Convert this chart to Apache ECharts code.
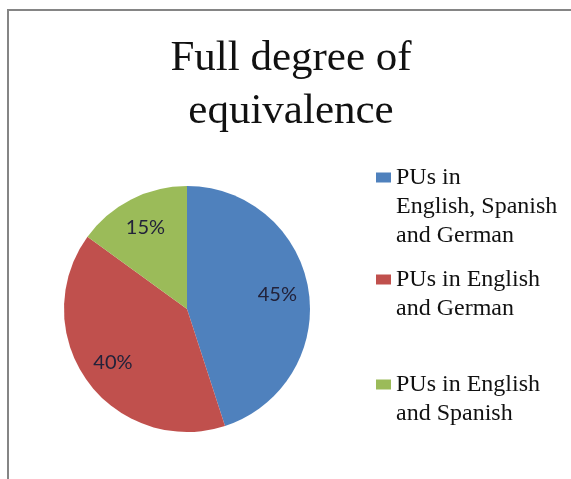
<!DOCTYPE html>
<html>
<head>
<meta charset="utf-8">
<title>Full degree of equivalence</title>
<script src="https://cdn.jsdelivr.net/npm/echarts@6/dist/echarts.min.js"></script>
<style>
  html, body { margin: 0; padding: 0; background: #fff; }
  #chart { width: 571px; height: 479px; }
</style>
</head>
<body>
<div id="chart"></div>
<script>
// 数据
var categories = ['PUs in English, Spanish and German', 'PUs in English and German', 'PUs in English and Spanish'];
var legendLines = [
  ['PUs in', 'English, Spanish', 'and German'],
  ['PUs in English', 'and German'],
  ['PUs in English', 'and Spanish']
];
var shares = [45, 40, 15];
var sliceColors = ['#4f81bd', '#c0504d', '#9bbb59'];

(function () {
  var myChart = echarts.init(document.getElementById('chart'));
  var serif = '"Liberation Serif", "Times New Roman", serif';

  var pieData = categories.map(function (name, i) {
    return { name: name, value: shares[i], itemStyle: { color: sliceColors[i] } };
  });

  // 每个图例单独放，让方块对齐第一行文字（前面补空行）
  var legendTops = [105, 236, 341];
  var legends = categories.map(function (name, i) {
    var lines = legendLines[i];
    var pad = new Array(lines.length).join('\n');
    return {
      data: [name],
      orient: 'vertical',
      left: 376,
      top: legendTops[i],
      padding: 0,
      itemWidth: 15,
      itemHeight: 10,
      itemGap: 0,
      icon: 'rect',
      selectedMode: false,
      formatter: function () {
        return pad + lines.join('\n');
      },
      textStyle: {
        fontFamily: serif,
        fontSize: 24,
        lineHeight: 29,
        color: '#111'
      }
    };
  });

  var option = {
    backgroundColor: '#fff',
    animation: false,
    title: {
      text: 'Full degree of\nequivalence',
      left: 291,
      textAlign: 'center',
      top: 32,
      padding: 0,
      textStyle: {
        fontFamily: serif,
        fontSize: 43,
        fontWeight: 'normal',
        lineHeight: 53,
        color: '#111'
      }
    },
    legend: legends,
    // 外框（只露出上边和左边）
    graphic: [{
      type: 'rect',
      shape: { x: 8, y: 10, width: 700, height: 600 },
      style: { fill: 'none', stroke: '#858585', lineWidth: 2 },
      silent: true
    }],
    series: [
      {
        name: 'share',
        type: 'pie',
        center: [187, 309],
        radius: [0, 123],
        startAngle: 90,
        clockwise: true,
        data: pieData,
        label: { show: false },
        labelLine: { show: false },
        itemStyle: { borderWidth: 0 },
        emphasis: { disabled: true }
      },
      {
        // 只用来放百分比标签
        name: 'labels',
        type: 'pie',
        center: [187, 309],
        radius: [54, 123],
        startAngle: 90,
        clockwise: true,
        silent: true,
        data: categories.map(function (name, i) {
          return { name: name, value: shares[i] };
        }),
        itemStyle: { color: 'rgba(0,0,0,0)', borderWidth: 0 },
        label: {
          show: true,
          position: 'inside',
          formatter: '{c}%',
          fontFamily: 'Lato, "Open Sans", sans-serif',
          fontSize: 20,
          color: '#22223a'
        },
        labelLine: { show: false },
        emphasis: { disabled: true }
      }
    ]
  };

  myChart.setOption(option);
  window.addEventListener('resize', function () {
    myChart.resize();
  });
})();
</script>
</body>
</html>
